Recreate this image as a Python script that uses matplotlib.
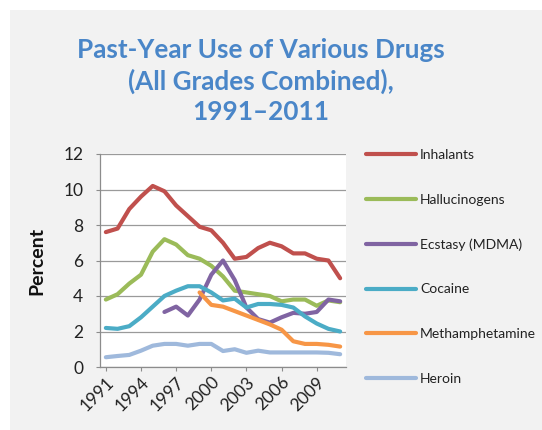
import numpy as np
import matplotlib
matplotlib.use("Agg")
import matplotlib.pyplot as plt
from matplotlib.patches import Rectangle

nan = np.nan
years = list(range(1991, 2012))
tick_years = [1991, 1994, 1997, 2000, 2003, 2006, 2009]

inhalants = [7.6, 7.8, 8.9, 9.6, 10.2, 9.9, 9.1, 8.5, 7.9, 7.7, 7.0,
             6.1, 6.2, 6.7, 7.0, 6.8, 6.4, 6.4, 6.1, 6.0, 5.0]
hallucinogens = [3.8, 4.1, 4.7, 5.2, 6.5, 7.2, 6.9, 6.3, 6.1, 5.7, 5.1,
                 4.3, 4.2, 4.1, 4.0, 3.7, 3.8, 3.8, 3.45, 3.75, 3.65]
ecstasy = [nan, nan, nan, nan, nan, 3.1, 3.4, 2.9, 3.8, 5.2, 6.0,
           4.9, 3.35, 2.7, 2.5, 2.8, 3.05, 3.0, 3.1, 3.8, 3.7]
cocaine = [2.2, 2.15, 2.3, 2.8, 3.4, 4.0, 4.3, 4.55, 4.55, 4.2, 3.75,
           3.85, 3.35, 3.55, 3.55, 3.5, 3.35, 2.85, 2.45, 2.15, 2.0]
methamphetamine = [nan, nan, nan, nan, nan, nan, nan, nan, 4.2, 3.5, 3.4,
                   3.15, 2.9, 2.65, 2.4, 2.1, 1.45, 1.3, 1.3, 1.25, 1.15]
heroin = [0.55, 0.62, 0.68, 0.92, 1.2, 1.3, 1.3, 1.2, 1.3, 1.3, 0.9,
          1.0, 0.8, 0.92, 0.82, 0.82, 0.82, 0.82, 0.82, 0.8, 0.72]

series = [
    ("Inhalants", inhalants, "#c0504d"),
    ("Hallucinogens", hallucinogens, "#9bbb59"),
    ("Ecstasy (MDMA)", ecstasy, "#8064a2"),
    ("Cocaine", cocaine, "#4bacc6"),
    ("Methamphetamine", methamphetamine, "#f79646"),
    ("Heroin", heroin, "#9fb9dc"),
]

W, H = 542, 430
fig = plt.figure(figsize=(W / 100, H / 100), dpi=100, facecolor="white")

# light grey slide panel
fig.patches.append(Rectangle((10 / W, 0), 1, 1 - 10 / H, transform=fig.transFigure,
                             facecolor="#f2f2f2", edgecolor="none", zorder=-10))

title_font = "Lato"
title_kw = dict(ha="center", va="center", color="#4a86c8", fontsize=18.8,
                fontweight="bold", family=title_font)
fig.text(261 / W, 1 - 50 / H, "Past-Year Use of Various Drugs", **title_kw)
fig.text(261 / W, 1 - 81 / H, "(All Grades Combined),", **title_kw)
fig.text(261 / W, 1 - 112 / H, "1991\u20132011", **title_kw)

ax = fig.add_axes([100 / W, 1 - 367 / H, 246 / W, 213 / H])
ax.set_facecolor("white")

x = np.arange(len(years))
for name, vals, color in series:
    ax.plot(x, vals, color=color, lw=3.0, label=name, solid_capstyle="round",
            solid_joinstyle="round")

ax.set_xlim(-0.5, len(years) - 0.5)
ax.set_ylim(0, 12)
ax.set_yticks(range(0, 13, 2))
ax.grid(axis="y", color="#9a9a9a", lw=0.9)
ax.set_axisbelow(True)

for s in ["top", "right"]:
    ax.spines[s].set_visible(False)
for s in ["left", "bottom"]:
    ax.spines[s].set_color("#8c8c8c")
    ax.spines[s].set_linewidth(0.9)

ax.set_xticks([years.index(y) for y in tick_years])
ax.set_xticklabels([str(y) for y in tick_years], rotation=45, ha="right",
                   rotation_mode="anchor", family="Lato", fontsize=12.5)
for lab in ax.get_yticklabels():
    lab.set_family("Lato")
    lab.set_fontsize(12.5)
ax.tick_params(axis="both", length=3, color="#8c8c8c", colors="#222222")
ax.tick_params(axis="y", pad=9)
ax.tick_params(axis="x", pad=2)

ax.set_ylabel("Percent", family="Lato", fontweight="bold", fontsize=14,
              color="#111111", labelpad=13)

leg = ax.legend(loc="upper left", bbox_to_anchor=(366 / W, 1 - 149 / H),
                bbox_transform=fig.transFigure, frameon=False,
                handlelength=3.6, handletextpad=0.3, labelspacing=2.35,
                prop={"family": "Lato", "size": 10}, borderaxespad=0,
                borderpad=0)
for t in leg.get_texts():
    t.set_color("#222222")

fig.savefig("out.png", dpi=100, facecolor=fig.get_facecolor())
